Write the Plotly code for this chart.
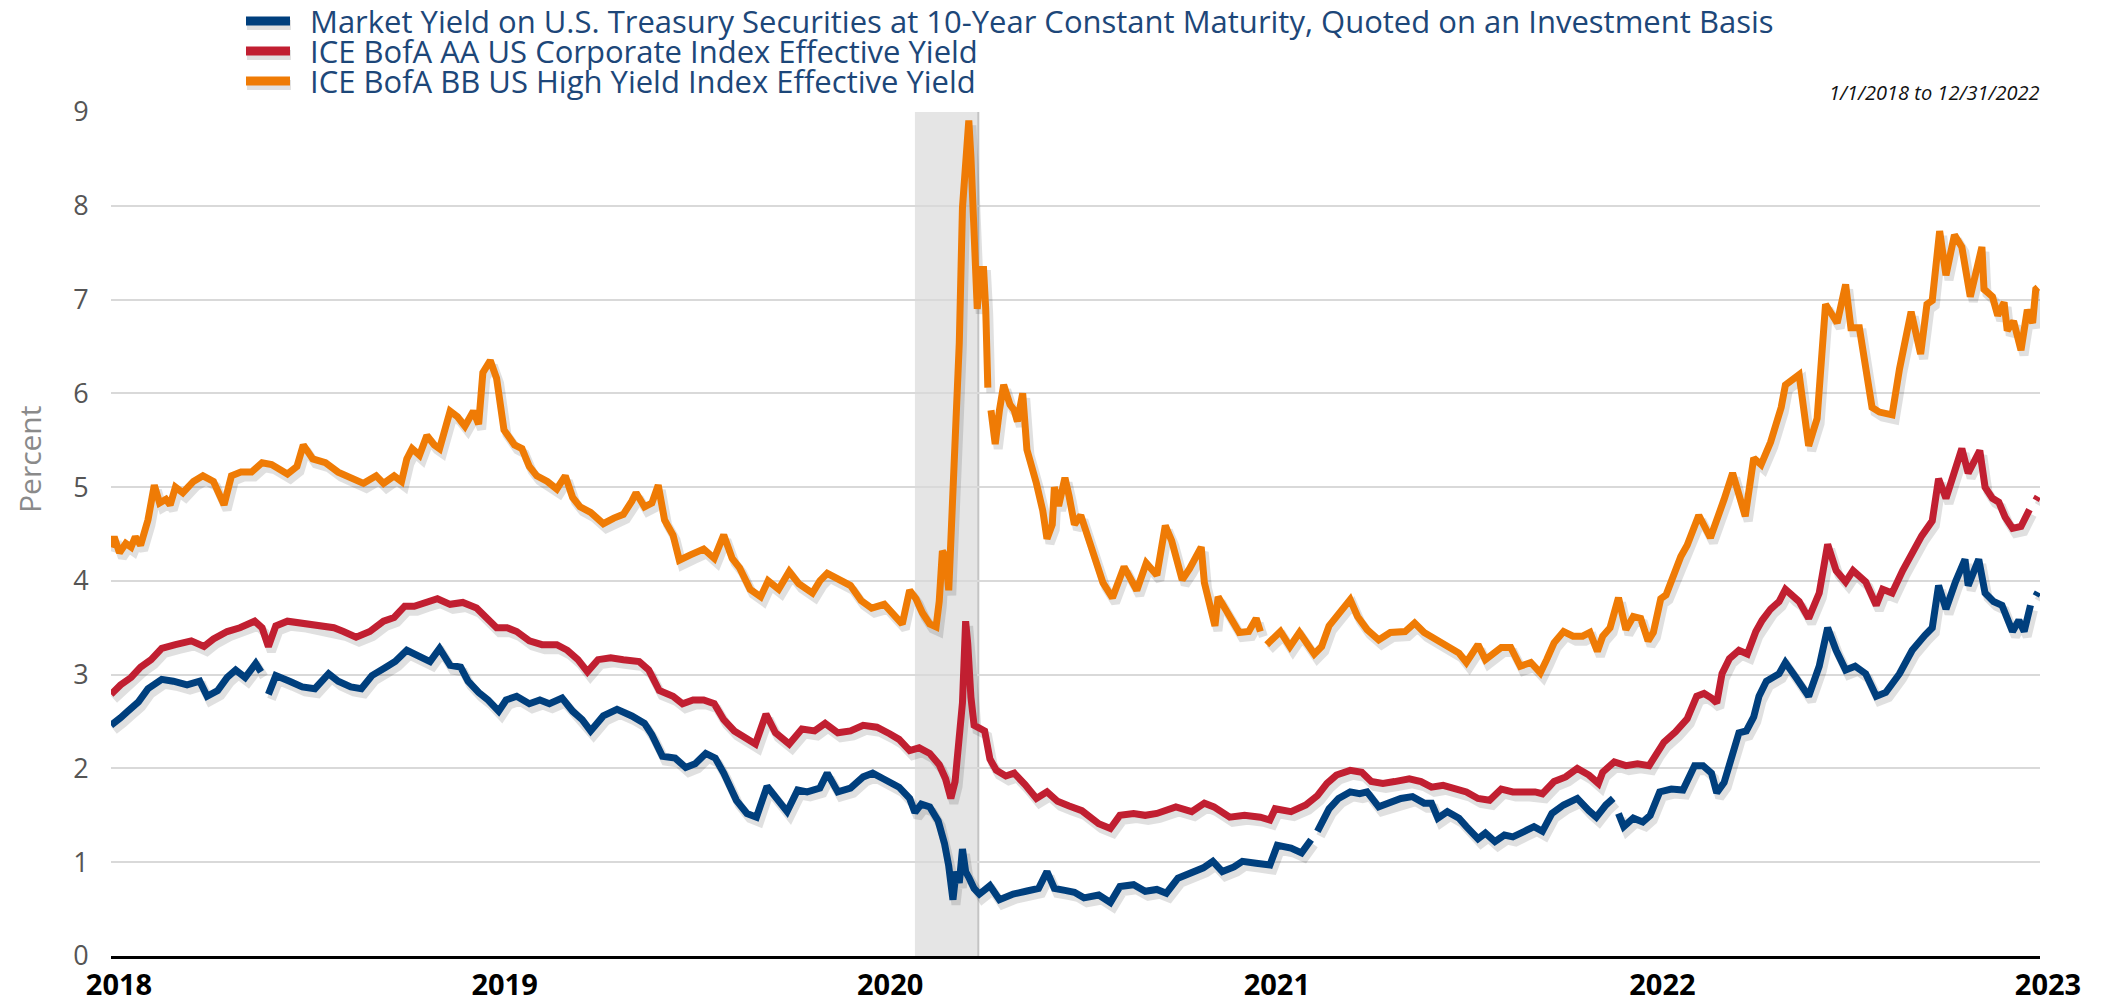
import plotly.graph_objects as go
import pandas as pd

# ---------------- data ----------------
TREASURY_10Y = [
    ("2018-01-01", 2.46), ("2018-01-04", 2.48), ("2018-01-10", 2.54), ("2018-01-17", 2.61),
    ("2018-01-27", 2.71), ("2018-02-05", 2.85), ("2018-02-18", 2.95), ("2018-03-01", 2.93),
    ("2018-03-14", 2.89), ("2018-03-26", 2.93), ("2018-04-02", 2.77), ("2018-04-12", 2.83),
    ("2018-04-21", 2.97), ("2018-04-29", 3.05), ("2018-05-08", 2.97), ("2018-05-18", 3.12),
    ("2018-05-23", 3.03), ("2018-05-26", None), ("2018-05-30", 2.79), ("2018-06-06", 2.99),
    ("2018-06-19", 2.93), ("2018-07-01", 2.87), ("2018-07-13", 2.85), ("2018-07-26", 3.01),
    ("2018-08-04", 2.93), ("2018-08-16", 2.87), ("2018-08-26", 2.85), ("2018-09-05", 2.99),
    ("2018-09-17", 3.07), ("2018-09-27", 3.14), ("2018-10-08", 3.26), ("2018-10-20", 3.20),
    ("2018-10-30", 3.14), ("2018-11-08", 3.28), ("2018-11-18", 3.10), ("2018-11-28", 3.08),
    ("2018-12-05", 2.93), ("2018-12-15", 2.81), ("2018-12-24", 2.73), ("2019-01-03", 2.61),
    ("2019-01-10", 2.73), ("2019-01-20", 2.77), ("2019-02-01", 2.69), ("2019-02-11", 2.73),
    ("2019-02-20", 2.69), ("2019-03-04", 2.75), ("2019-03-14", 2.61), ("2019-03-23", 2.52),
    ("2019-03-31", 2.40), ("2019-04-12", 2.56), ("2019-04-25", 2.63), ("2019-05-09", 2.56),
    ("2019-05-21", 2.48), ("2019-05-28", 2.36), ("2019-06-07", 2.13), ("2019-06-19", 2.11),
    ("2019-06-29", 2.01), ("2019-07-08", 2.05), ("2019-07-18", 2.16), ("2019-07-27", 2.11),
    ("2019-08-04", 1.95), ("2019-08-16", 1.66), ("2019-08-26", 1.52), ("2019-09-04", 1.48),
    ("2019-09-14", 1.81), ("2019-09-21", 1.71), ("2019-10-03", 1.54), ("2019-10-13", 1.77),
    ("2019-10-22", 1.75), ("2019-11-03", 1.79), ("2019-11-10", 1.95), ("2019-11-20", 1.75),
    ("2019-12-02", 1.79), ("2019-12-14", 1.91), ("2019-12-23", 1.95), ("2020-01-02", 1.89),
    ("2020-01-08", 1.86), ("2020-01-17", 1.80), ("2020-01-27", 1.68), ("2020-02-01", 1.53),
    ("2020-02-07", 1.62), ("2020-02-15", 1.59), ("2020-02-23", 1.44), ("2020-02-29", 1.20),
    ("2020-03-04", 0.96), ("2020-03-08", 0.60), ("2020-03-11", 0.90), ("2020-03-14", 0.78),
    ("2020-03-17", 1.14), ("2020-03-20", 0.90), ("2020-03-23", 0.84), ("2020-03-28", 0.72),
    ("2020-04-02", 0.66), ("2020-04-12", 0.75), ("2020-04-21", 0.60), ("2020-05-04", 0.66),
    ("2020-05-16", 0.69), ("2020-05-28", 0.72), ("2020-06-05", 0.90), ("2020-06-12", 0.72),
    ("2020-06-22", 0.70), ("2020-07-01", 0.68), ("2020-07-10", 0.62), ("2020-07-24", 0.65),
    ("2020-08-04", 0.57), ("2020-08-13", 0.74), ("2020-08-26", 0.76), ("2020-09-06", 0.69),
    ("2020-09-17", 0.71), ("2020-09-26", 0.67), ("2020-10-07", 0.83), ("2020-10-20", 0.88),
    ("2020-10-31", 0.94), ("2020-11-09", 1.01), ("2020-11-18", 0.90), ("2020-11-29", 0.95),
    ("2020-12-07", 1.01), ("2020-12-20", 0.99), ("2021-01-02", 0.97), ("2021-01-09", 1.18),
    ("2021-01-22", 1.15), ("2021-02-01", 1.10), ("2021-02-10", 1.24), ("2021-02-13", None),
    ("2021-02-16", 1.33), ("2021-02-23", 1.47), ("2021-02-27", 1.57), ("2021-03-08", 1.68),
    ("2021-03-19", 1.75), ("2021-03-28", 1.73), ("2021-04-04", 1.75), ("2021-04-15", 1.59),
    ("2021-04-26", 1.63), ("2021-05-06", 1.68), ("2021-05-17", 1.70), ("2021-05-28", 1.63),
    ("2021-06-04", 1.63), ("2021-06-10", 1.47), ("2021-06-19", 1.54), ("2021-06-30", 1.47),
    ("2021-07-07", 1.38), ("2021-07-18", 1.25), ("2021-07-25", 1.31), ("2021-08-03", 1.22),
    ("2021-08-12", 1.29), ("2021-08-20", 1.27), ("2021-08-31", 1.33), ("2021-09-09", 1.38),
    ("2021-09-17", 1.33), ("2021-09-26", 1.52), ("2021-10-07", 1.61), ("2021-10-20", 1.68),
    ("2021-10-31", 1.55), ("2021-11-07", 1.48), ("2021-11-16", 1.61), ("2021-11-23", 1.68),
    ("2021-11-25", None), ("2021-11-28", 1.52), ("2021-12-03", 1.38), ("2021-12-12", 1.47),
    ("2021-12-21", 1.43), ("2021-12-28", 1.50), ("2022-01-06", 1.75), ("2022-01-17", 1.78),
    ("2022-01-28", 1.77), ("2022-02-08", 2.03), ("2022-02-16", 2.03), ("2022-02-24", 1.95),
    ("2022-03-01", 1.74), ("2022-03-08", 1.85), ("2022-03-15", 2.15), ("2022-03-22", 2.38),
    ("2022-03-29", 2.40), ("2022-04-05", 2.55), ("2022-04-10", 2.77), ("2022-04-17", 2.93),
    ("2022-04-29", 3.01), ("2022-05-05", 3.13), ("2022-05-15", 2.97), ("2022-05-27", 2.77),
    ("2022-06-06", 3.09), ("2022-06-14", 3.50), ("2022-06-22", 3.26), ("2022-07-01", 3.05),
    ("2022-07-10", 3.09), ("2022-07-20", 3.01), ("2022-07-30", 2.77), ("2022-08-08", 2.81),
    ("2022-08-21", 3.01), ("2022-09-02", 3.26), ("2022-09-14", 3.42), ("2022-09-21", 3.50),
    ("2022-09-27", 3.95), ("2022-10-04", 3.70), ("2022-10-13", 3.99), ("2022-10-22", 4.23),
    ("2022-10-25", 3.95), ("2022-11-04", 4.23), ("2022-11-10", 3.87), ("2022-11-18", 3.78),
    ("2022-11-26", 3.74), ("2022-12-06", 3.46), ("2022-12-12", 3.58), ("2022-12-17", 3.46),
    ("2022-12-23", 3.74), ("2022-12-26", None), ("2022-12-28", 3.84), ("2022-12-30", 3.88),
]

AA_CORPORATE = [
    ("2018-01-01", 2.79), ("2018-01-10", 2.89), ("2018-01-20", 2.97), ("2018-01-29", 3.08),
    ("2018-02-08", 3.16), ("2018-02-18", 3.28), ("2018-03-03", 3.32), ("2018-03-18", 3.36),
    ("2018-03-30", 3.30), ("2018-04-08", 3.38), ("2018-04-21", 3.46), ("2018-05-03", 3.50),
    ("2018-05-17", 3.57), ("2018-05-24", 3.50), ("2018-05-30", 3.30), ("2018-06-06", 3.52),
    ("2018-06-17", 3.57), ("2018-07-02", 3.55), ("2018-07-16", 3.52), ("2018-07-31", 3.50),
    ("2018-08-09", 3.46), ("2018-08-21", 3.40), ("2018-09-03", 3.46), ("2018-09-16", 3.57),
    ("2018-09-26", 3.61), ("2018-10-06", 3.73), ("2018-10-15", 3.73), ("2018-10-25", 3.77),
    ("2018-11-06", 3.81), ("2018-11-18", 3.75), ("2018-11-30", 3.77), ("2018-12-13", 3.71),
    ("2018-12-22", 3.61), ("2019-01-01", 3.50), ("2019-01-11", 3.50), ("2019-01-20", 3.46),
    ("2019-02-01", 3.36), ("2019-02-13", 3.32), ("2019-02-27", 3.32), ("2019-03-09", 3.26),
    ("2019-03-19", 3.16), ("2019-03-28", 3.03), ("2019-04-07", 3.16), ("2019-04-19", 3.18),
    ("2019-05-01", 3.16), ("2019-05-16", 3.14), ("2019-05-25", 3.05), ("2019-06-04", 2.83),
    ("2019-06-17", 2.77), ("2019-06-26", 2.69), ("2019-07-06", 2.73), ("2019-07-16", 2.73),
    ("2019-07-26", 2.69), ("2019-08-04", 2.52), ("2019-08-14", 2.40), ("2019-08-24", 2.32),
    ("2019-09-03", 2.26), ("2019-09-13", 2.58), ("2019-09-22", 2.38), ("2019-10-05", 2.26),
    ("2019-10-17", 2.42), ("2019-10-29", 2.40), ("2019-11-08", 2.48), ("2019-11-20", 2.38),
    ("2019-12-02", 2.40), ("2019-12-14", 2.46), ("2019-12-27", 2.44), ("2020-01-08", 2.37),
    ("2020-01-17", 2.31), ("2020-01-27", 2.19), ("2020-02-05", 2.22), ("2020-02-15", 2.16),
    ("2020-02-24", 2.04), ("2020-03-01", 1.89), ("2020-03-06", 1.68), ("2020-03-10", 1.86),
    ("2020-03-14", 2.40), ("2020-03-17", 2.70), ("2020-03-20", 3.57), ("2020-03-22", 3.33),
    ("2020-03-25", 2.76), ("2020-03-28", 2.46), ("2020-04-02", 2.43), ("2020-04-07", 2.40),
    ("2020-04-12", 2.10), ("2020-04-18", 1.98), ("2020-04-27", 1.92), ("2020-05-05", 1.95),
    ("2020-05-15", 1.83), ("2020-05-26", 1.68), ("2020-06-05", 1.75), ("2020-06-15", 1.65),
    ("2020-06-26", 1.60), ("2020-07-08", 1.55), ("2020-07-24", 1.41), ("2020-08-04", 1.36),
    ("2020-08-13", 1.50), ("2020-08-26", 1.52), ("2020-09-06", 1.50), ("2020-09-17", 1.52),
    ("2020-10-05", 1.59), ("2020-10-20", 1.54), ("2020-11-01", 1.63), ("2020-11-10", 1.59),
    ("2020-11-25", 1.48), ("2020-12-09", 1.50), ("2020-12-24", 1.48), ("2021-01-02", 1.45),
    ("2021-01-07", 1.57), ("2021-01-22", 1.54), ("2021-02-05", 1.61), ("2021-02-16", 1.71),
    ("2021-02-25", 1.84), ("2021-03-06", 1.93), ("2021-03-19", 1.98), ("2021-03-30", 1.96),
    ("2021-04-08", 1.86), ("2021-04-19", 1.84), ("2021-04-30", 1.86), ("2021-05-14", 1.89),
    ("2021-05-25", 1.86), ("2021-06-04", 1.80), ("2021-06-15", 1.82), ("2021-06-26", 1.78),
    ("2021-07-07", 1.75), ("2021-07-18", 1.68), ("2021-07-29", 1.66), ("2021-08-09", 1.78),
    ("2021-08-20", 1.75), ("2021-08-31", 1.75), ("2021-09-10", 1.75), ("2021-09-17", 1.73),
    ("2021-09-28", 1.86), ("2021-10-09", 1.91), ("2021-10-20", 2.00), ("2021-10-31", 1.93),
    ("2021-11-09", 1.84), ("2021-11-13", 1.96), ("2021-11-24", 2.07), ("2021-12-05", 2.03),
    ("2021-12-16", 2.05), ("2021-12-27", 2.03), ("2022-01-03", 2.17), ("2022-01-10", 2.28),
    ("2022-01-21", 2.39), ("2022-02-01", 2.53), ("2022-02-10", 2.77), ("2022-02-17", 2.80),
    ("2022-02-24", 2.75), ("2022-03-01", 2.70), ("2022-03-06", 3.01), ("2022-03-13", 3.17),
    ("2022-03-22", 3.26), ("2022-03-30", 3.22), ("2022-04-07", 3.46), ("2022-04-13", 3.58),
    ("2022-04-21", 3.70), ("2022-04-29", 3.78), ("2022-05-05", 3.91), ("2022-05-12", 3.83),
    ("2022-05-18", 3.78), ("2022-05-27", 3.60), ("2022-06-06", 3.87), ("2022-06-14", 4.39),
    ("2022-06-22", 4.11), ("2022-07-01", 3.99), ("2022-07-08", 4.11), ("2022-07-20", 3.99),
    ("2022-07-30", 3.74), ("2022-08-05", 3.91), ("2022-08-14", 3.87), ("2022-08-24", 4.11),
    ("2022-09-02", 4.31), ("2022-09-11", 4.48), ("2022-09-21", 4.64), ("2022-09-27", 5.09),
    ("2022-10-04", 4.88), ("2022-10-13", 5.21), ("2022-10-19", 5.41), ("2022-10-25", 5.15),
    ("2022-11-05", 5.39), ("2022-11-10", 5.00), ("2022-11-17", 4.88), ("2022-11-23", 4.84),
    ("2022-11-29", 4.68), ("2022-12-06", 4.56), ("2022-12-14", 4.58), ("2022-12-22", 4.76),
    ("2022-12-26", None), ("2022-12-28", 4.86), ("2022-12-30", 4.90),
]

BB_HIGH_YIELD = [
    ("2018-01-01", 4.36), ("2018-01-04", 4.47), ("2018-01-09", 4.30), ("2018-01-15", 4.40),
    ("2018-01-20", 4.36), ("2018-01-24", 4.47), ("2018-01-29", 4.38), ("2018-02-05", 4.65),
    ("2018-02-11", 5.02), ("2018-02-16", 4.83), ("2018-02-22", 4.87), ("2018-02-26", 4.81),
    ("2018-03-03", 5.00), ("2018-03-10", 4.94), ("2018-03-20", 5.06), ("2018-03-29", 5.12),
    ("2018-04-08", 5.06), ("2018-04-18", 4.81), ("2018-04-25", 5.12), ("2018-05-04", 5.16),
    ("2018-05-14", 5.16), ("2018-05-24", 5.26), ("2018-06-02", 5.24), ("2018-06-17", 5.14),
    ("2018-06-26", 5.22), ("2018-07-02", 5.45), ("2018-07-11", 5.30), ("2018-07-23", 5.26),
    ("2018-08-04", 5.16), ("2018-08-16", 5.10), ("2018-08-28", 5.04), ("2018-09-09", 5.12),
    ("2018-09-16", 5.04), ("2018-09-26", 5.12), ("2018-10-03", 5.06), ("2018-10-08", 5.30),
    ("2018-10-13", 5.41), ("2018-10-20", 5.34), ("2018-10-27", 5.55), ("2018-11-03", 5.45),
    ("2018-11-08", 5.41), ("2018-11-18", 5.81), ("2018-11-25", 5.75), ("2018-12-02", 5.65),
    ("2018-12-10", 5.81), ("2018-12-15", 5.67), ("2018-12-19", 6.22), ("2018-12-26", 6.35),
    ("2019-01-01", 6.16), ("2019-01-08", 5.61), ("2019-01-18", 5.45), ("2019-01-25", 5.41),
    ("2019-02-01", 5.22), ("2019-02-08", 5.12), ("2019-02-18", 5.06), ("2019-02-27", 4.98),
    ("2019-03-07", 5.12), ("2019-03-14", 4.89), ("2019-03-21", 4.79), ("2019-03-31", 4.73),
    ("2019-04-12", 4.61), ("2019-04-22", 4.67), ("2019-05-01", 4.71), ("2019-05-09", 4.85),
    ("2019-05-13", 4.94), ("2019-05-21", 4.79), ("2019-05-28", 4.83), ("2019-06-03", 5.02),
    ("2019-06-09", 4.65), ("2019-06-17", 4.49), ("2019-06-23", 4.22), ("2019-07-04", 4.28),
    ("2019-07-16", 4.34), ("2019-07-26", 4.24), ("2019-08-04", 4.49), ("2019-08-12", 4.24),
    ("2019-08-19", 4.14), ("2019-08-29", 3.91), ("2019-09-08", 3.83), ("2019-09-15", 4.00),
    ("2019-09-25", 3.91), ("2019-10-05", 4.10), ("2019-10-14", 3.97), ("2019-10-27", 3.87),
    ("2019-11-03", 4.00), ("2019-11-10", 4.08), ("2019-11-20", 4.02), ("2019-12-02", 3.95),
    ("2019-12-12", 3.79), ("2019-12-22", 3.71), ("2020-01-03", 3.75), ("2020-01-12", 3.63),
    ("2020-01-20", 3.54), ("2020-01-27", 3.90), ("2020-02-02", 3.81), ("2020-02-08", 3.66),
    ("2020-02-15", 3.54), ("2020-02-21", 3.51), ("2020-02-24", 3.78), ("2020-02-27", 4.32),
    ("2020-03-01", 4.26), ("2020-03-04", 3.90), ("2020-03-06", 4.44), ("2020-03-08", 5.16),
    ("2020-03-11", 6.00), ("2020-03-14", 6.54), ("2020-03-17", 7.98), ("2020-03-20", 8.40),
    ("2020-03-23", 8.91), ("2020-03-25", 8.52), ("2020-03-28", 7.50), ("2020-03-31", 6.90),
    ("2020-04-03", 7.32), ("2020-04-06", 7.32), ("2020-04-08", 6.90), ("2020-04-10", 6.06),
    ("2020-04-11", None), ("2020-04-13", 5.82), ("2020-04-17", 5.46), ("2020-04-21", 5.82),
    ("2020-04-25", 6.09), ("2020-05-01", 5.88), ("2020-05-05", 5.82), ("2020-05-08", 5.70),
    ("2020-05-13", 6.00), ("2020-05-17", 5.40), ("2020-05-22", 5.22), ("2020-05-26", 5.04),
    ("2020-06-01", 4.75), ("2020-06-05", 4.45), ("2020-06-10", 4.60), ("2020-06-12", 5.00),
    ("2020-06-16", 4.80), ("2020-06-22", 5.10), ("2020-06-26", 4.90), ("2020-07-01", 4.60),
    ("2020-07-07", 4.70), ("2020-07-14", 4.45), ("2020-07-24", 4.15), ("2020-07-28", 3.98),
    ("2020-08-06", 3.82), ("2020-08-17", 4.15), ("2020-08-29", 3.90), ("2020-09-07", 4.19),
    ("2020-09-17", 4.06), ("2020-09-25", 4.59), ("2020-10-01", 4.43), ("2020-10-11", 4.01),
    ("2020-10-18", 4.13), ("2020-10-29", 4.36), ("2020-11-01", 3.98), ("2020-11-11", 3.52),
    ("2020-11-14", 3.83), ("2020-11-25", 3.62), ("2020-12-04", 3.45), ("2020-12-13", 3.46),
    ("2020-12-20", 3.60), ("2020-12-24", 3.46), ("2020-12-25", None), ("2020-12-30", 3.32),
    ("2021-01-07", 3.41), ("2021-01-12", 3.46), ("2021-01-21", 3.30), ("2021-01-30", 3.45),
    ("2021-02-13", 3.22), ("2021-02-20", 3.30), ("2021-02-27", 3.52), ("2021-03-10", 3.69),
    ("2021-03-19", 3.80), ("2021-03-26", 3.62), ("2021-04-04", 3.48), ("2021-04-15", 3.37),
    ("2021-04-26", 3.45), ("2021-05-10", 3.46), ("2021-05-19", 3.55), ("2021-05-28", 3.45),
    ("2021-06-08", 3.37), ("2021-06-19", 3.30), ("2021-06-30", 3.23), ("2021-07-07", 3.13),
    ("2021-07-18", 3.32), ("2021-07-25", 3.16), ("2021-08-09", 3.29), ("2021-08-18", 3.29),
    ("2021-08-27", 3.09), ("2021-09-06", 3.13), ("2021-09-15", 3.02), ("2021-09-21", 3.16),
    ("2021-09-28", 3.34), ("2021-10-07", 3.46), ("2021-10-16", 3.41), ("2021-10-25", 3.41),
    ("2021-11-01", 3.45), ("2021-11-08", 3.25), ("2021-11-13", 3.41), ("2021-11-20", 3.50),
    ("2021-11-28", 3.82), ("2021-12-05", 3.48), ("2021-12-12", 3.62), ("2021-12-19", 3.60),
    ("2021-12-26", 3.36), ("2021-12-31", 3.45), ("2022-01-07", 3.81), ("2022-01-12", 3.85),
    ("2022-01-26", 4.26), ("2022-02-01", 4.38), ("2022-02-12", 4.70), ("2022-02-23", 4.46),
    ("2022-02-28", 4.60), ("2022-03-08", 4.87), ("2022-03-16", 5.15), ("2022-03-28", 4.69),
    ("2022-04-05", 5.31), ("2022-04-12", 5.24), ("2022-04-21", 5.48), ("2022-05-01", 5.85),
    ("2022-05-05", 6.09), ("2022-05-18", 6.20), ("2022-05-27", 5.44), ("2022-06-04", 5.73),
    ("2022-06-12", 6.95), ("2022-06-23", 6.75), ("2022-07-01", 7.16), ("2022-07-06", 6.70),
    ("2022-07-14", 6.70), ("2022-07-20", 6.26), ("2022-07-26", 5.85), ("2022-08-02", 5.80),
    ("2022-08-14", 5.77), ("2022-08-21", 6.26), ("2022-09-01", 6.87), ("2022-09-10", 6.42),
    ("2022-09-16", 6.95), ("2022-09-21", 6.99), ("2022-09-28", 7.73), ("2022-10-04", 7.26),
    ("2022-10-12", 7.69), ("2022-10-19", 7.56), ("2022-10-27", 7.03), ("2022-11-07", 7.56),
    ("2022-11-09", 7.11), ("2022-11-17", 7.03), ("2022-11-22", 6.83), ("2022-11-28", 6.97),
    ("2022-12-01", 6.67), ("2022-12-07", 6.77), ("2022-12-14", 6.46), ("2022-12-20", 6.89),
    ("2022-12-25", 6.75), ("2022-12-28", 7.11), ("2022-12-30", 7.13),
]

SERIES_NAMES = [
    "Market Yield on U.S. Treasury Securities at 10-Year Constant Maturity, Quoted on an Investment Basis",
    "ICE BofA AA US Corporate Index Effective Yield",
    "ICE BofA BB US High Yield Index Effective Yield",
]
SERIES_COLORS = ["#003f7d", "#c11f31", "#ef7b05"]

RECESSION_START = "2020-02-01"
RECESSION_END = "2020-04-01"

X_START, X_END = "2018-01-01", "2023-01-01"
Y_MIN, Y_MAX = 0, 9
X_TICKS = ["2018-01-01", "2019-01-01", "2020-01-01", "2021-01-01", "2022-01-01", "2023-01-01"]
X_TICK_TEXT = ["2018", "2019", "2020", "2021", "2022", "2023"]
Y_TICKS = list(range(0, 10))
DATE_RANGE_TEXT = "1/1/2018 to 12/31/2022"
Y_TITLE = "Percent"

# ---------------- layout geometry (screen pixels) ----------------
PAGE_PAD = 8                      # default page margin around the figure div
W, H = 2123 - 2 * PAGE_PAD, 1004 - PAGE_PAD
PLOT_L, PLOT_T, PLOT_W, PLOT_H = 111, 112, 1929, 844   # plot area on screen
ML = PLOT_L - PAGE_PAD
MT = PLOT_T - PAGE_PAD
MR = W - ML - PLOT_W
MB = H - MT - PLOT_H


def px_x(px):
    return (px - PLOT_L) / PLOT_W


def px_y(py):
    return (PLOT_T + PLOT_H - py) / PLOT_H


# shadow offset (pixels) realised through a shifted overlay axis
SH_DX, SH_DY = 3, 5
x0 = pd.Timestamp(X_START)
x1 = pd.Timestamp(X_END)
day_per_px = (x1 - x0) / PLOT_W
sx0 = x0 - day_per_px * SH_DX
sx1 = x1 - day_per_px * SH_DX
val_per_px = (Y_MAX - Y_MIN) / PLOT_H
sy0 = Y_MIN + val_per_px * SH_DY
sy1 = Y_MAX + val_per_px * SH_DY

FONT = "Open Sans"
LEGEND_ROWS_Y = [21, 51, 81]
LEGEND_SWATCH_X = (246, 290)
LEGEND_TEXT_X = 309

fig = go.Figure()
all_series = [TREASURY_10Y, AA_CORPORATE, BB_HIGH_YIELD]

# shadows
for data in all_series:
    fig.add_trace(go.Scatter(
        x=[d for d, _ in data], y=[v for _, v in data],
        mode="lines", xaxis="x2", yaxis="y2",
        line=dict(color="rgba(0,0,0,0.12)", width=9),
        showlegend=False, hoverinfo="skip", connectgaps=False,
    ))

# main lines
for data, name, color in zip(all_series, SERIES_NAMES, SERIES_COLORS):
    fig.add_trace(go.Scatter(
        x=[d for d, _ in data], y=[v for _, v in data],
        mode="lines", name=name, xaxis="x3", yaxis="y3",
        line=dict(color=color, width=7),
        connectgaps=False, showlegend=False,
    ))

shapes = [
    dict(type="rect", xref="x", yref="paper", x0=RECESSION_START, x1=RECESSION_END,
         y0=0, y1=1, fillcolor="#e5e5e5", line=dict(width=0), layer="between"),
    dict(type="line", xref="x", yref="paper", x0=RECESSION_END, x1=RECESSION_END,
         y0=0, y1=1, line=dict(color="#c4c4c4", width=2), layer="between"),
]
annotations = [
    dict(text=Y_TITLE, xref="paper", yref="paper", x=px_x(29), y=px_y(460),
         xanchor="center", yanchor="middle", textangle=-90, showarrow=False,
         font=dict(family=FONT, size=30, color="#8a8a8a")),
    dict(text="<i>" + DATE_RANGE_TEXT + "</i>", xref="paper", yref="paper",
         x=px_x(2042), y=px_y(92), xanchor="right", yanchor="middle", showarrow=False,
         font=dict(family=FONT, size=20, color="#111111")),
]

# custom legend (thick swatches like the reference)
for name, color, ry in zip(SERIES_NAMES, SERIES_COLORS, LEGEND_ROWS_Y):
    shapes.append(dict(type="line", xref="paper", yref="paper",
                       x0=px_x(LEGEND_SWATCH_X[0]) + 0.0005, x1=px_x(LEGEND_SWATCH_X[1]) + 0.0005,
                       y0=px_y(ry + 4), y1=px_y(ry + 4),
                       line=dict(color="rgba(0,0,0,0.12)", width=10), layer="above"))
    shapes.append(dict(type="line", xref="paper", yref="paper",
                       x0=px_x(LEGEND_SWATCH_X[0]), x1=px_x(LEGEND_SWATCH_X[1]),
                       y0=px_y(ry), y1=px_y(ry),
                       line=dict(color=color, width=9), layer="above"))
    annotations.append(dict(text=name, xref="paper", yref="paper",
                            x=px_x(LEGEND_TEXT_X), y=px_y(ry), xanchor="left", yanchor="middle",
                            showarrow=False, borderpad=0,
                            font=dict(family=FONT, size=31, color="#1d4779")))

fig.update_layout(
    width=W, height=H,
    margin=dict(l=ML, r=MR, t=MT, b=MB, autoexpand=False),
    paper_bgcolor="white", plot_bgcolor="white",
    font=dict(family=FONT),
    xaxis=dict(
        type="date", range=[X_START, X_END], domain=[0, 1],
        showgrid=False, zeroline=False,
        showline=True, linecolor="#000000", linewidth=3,
        tickmode="array", tickvals=X_TICKS, ticktext=X_TICK_TEXT,
        tickfont=dict(family=FONT, size=29, color="#000000", weight="bold"),
        ticks="outside", ticklen=1, tickcolor="rgba(0,0,0,0)",
        ticklabelshift=8,
    ),
    yaxis=dict(
        range=[Y_MIN, Y_MAX], domain=[0, 1],
        tickmode="array", tickvals=Y_TICKS,
        showgrid=True, gridcolor="#d9d9d9", gridwidth=2,
        zeroline=False, showline=False,
        tickfont=dict(family=FONT, size=27, color="#555555"),
        ticks="outside", ticklen=16, tickcolor="rgba(0,0,0,0)",
    ),
    xaxis2=dict(type="date", range=[sx0, sx1], overlaying="x", visible=False, anchor="y2"),
    yaxis2=dict(range=[sy0, sy1], overlaying="y", visible=False, anchor="x2"),
    xaxis3=dict(type="date", range=[X_START, X_END], overlaying="x", visible=False, anchor="y3"),
    yaxis3=dict(range=[Y_MIN, Y_MAX], overlaying="y", visible=False, anchor="x3"),
    showlegend=False,
    shapes=shapes,
    annotations=annotations,
)

fig.write_html("out.html")
